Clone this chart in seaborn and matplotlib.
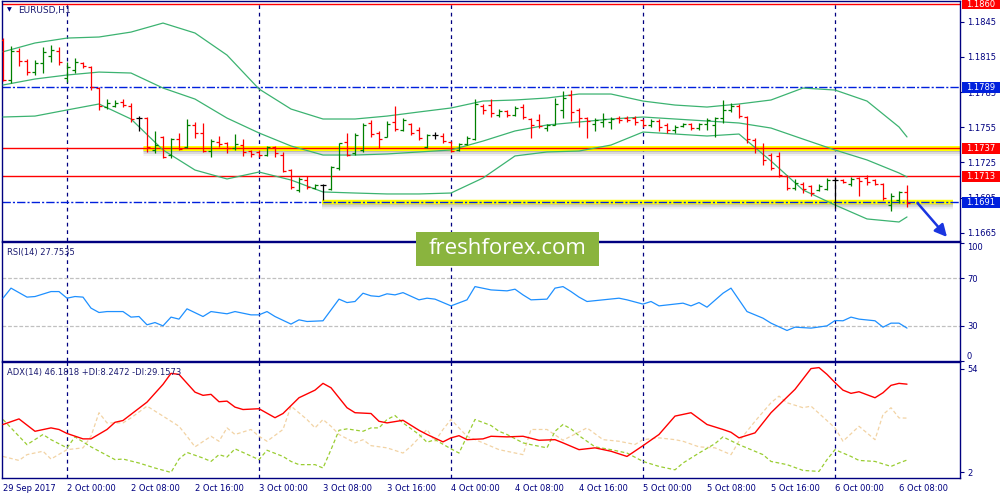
import numpy as np
import matplotlib
matplotlib.use("Agg")
import matplotlib.pyplot as plt
import matplotlib.patheffects as pe
from matplotlib.patches import Rectangle
import seaborn as sns

sns.set_style("white")
plt.rcParams["font.family"] = ["DejaVu Sans"]

# ---- OHLC, EURUSD H1 (bar 0 = 29 Sep 16:00) ----
bar_open = [1.18293, 1.17952, 1.18199, 1.18114, 1.18020, 1.18097, 1.18157, 1.18199, 1.17969, 1.18038,
            1.18097, 1.18063, 1.17884, 1.17722, 1.17731, 1.17765, 1.17731, 1.17628, 1.17628, 1.17356,
            1.17467, 1.17313, 1.17449, 1.17381, 1.17569, 1.17501, 1.17347, 1.17424, 1.17415, 1.17373,
            1.17398, 1.17347, 1.17339, 1.17313, 1.17381, 1.17313, 1.17185, 1.17015, 1.17100, 1.17032,
            1.17057, 1.17023, 1.17202, 1.17424, 1.17330, 1.17356, 1.17586, 1.17501, 1.17467, 1.17594,
            1.17526, 1.17577, 1.17526, 1.17381, 1.17484, 1.17475, 1.17424, 1.17356, 1.17407, 1.17449,
            1.17731, 1.17739, 1.17654, 1.17688, 1.17654, 1.17722, 1.17620, 1.17611, 1.17543, 1.17569,
            1.17697, 1.17824, 1.17697, 1.17628, 1.17577, 1.17594, 1.17594, 1.17628, 1.17628, 1.17628,
            1.17611, 1.17569, 1.17603, 1.17569, 1.17526, 1.17560, 1.17577, 1.17543, 1.17577, 1.17569,
            1.17628, 1.17697, 1.17731, 1.17637, 1.17441, 1.17373, 1.17313, 1.17305, 1.17134, 1.17032,
            1.17066, 1.17049, 1.17015, 1.17023, 1.17100, 1.17100, 1.17066, 1.17117, 1.17117, 1.17100,
            1.17066, 1.16887, 1.16930, 1.16998]
bar_high = [1.18310, 1.18242, 1.18225, 1.18131, 1.18123, 1.18234, 1.18251, 1.18234, 1.18106, 1.18140,
            1.18106, 1.18072, 1.17893, 1.17790, 1.17782, 1.17790, 1.17756, 1.17645, 1.17637, 1.17518,
            1.17475, 1.17458, 1.17501, 1.17620, 1.17594, 1.17586, 1.17449, 1.17475, 1.17424, 1.17492,
            1.17449, 1.17356, 1.17356, 1.17390, 1.17390, 1.17339, 1.17194, 1.17126, 1.17134, 1.17066,
            1.17066, 1.17219, 1.17415, 1.17501, 1.17501, 1.17586, 1.17611, 1.17518, 1.17603, 1.17731,
            1.17628, 1.17586, 1.17552, 1.17492, 1.17509, 1.17501, 1.17432, 1.17415, 1.17475, 1.17790,
            1.17748, 1.17790, 1.17705, 1.17697, 1.17731, 1.17748, 1.17628, 1.17662, 1.17577, 1.17799,
            1.17859, 1.17867, 1.17714, 1.17637, 1.17628, 1.17671, 1.17637, 1.17645, 1.17645, 1.17645,
            1.17620, 1.17620, 1.17620, 1.17586, 1.17569, 1.17586, 1.17586, 1.17586, 1.17628, 1.17637,
            1.17782, 1.17756, 1.17748, 1.17645, 1.17458, 1.17415, 1.17330, 1.17339, 1.17143, 1.17109,
            1.17083, 1.17057, 1.17066, 1.17117, 1.17126, 1.17109, 1.17126, 1.17126, 1.17143, 1.17109,
            1.17075, 1.16989, 1.17006, 1.17057]
bar_low = [1.17944, 1.17927, 1.18072, 1.17995, 1.17995, 1.18012, 1.18106, 1.18080, 1.17935, 1.18012,
           1.18055, 1.17867, 1.17697, 1.17705, 1.17722, 1.17722, 1.17594, 1.17518, 1.17339, 1.17330,
           1.17288, 1.17288, 1.17356, 1.17373, 1.17458, 1.17339, 1.17296, 1.17381, 1.17330, 1.17356,
           1.17305, 1.17296, 1.17296, 1.17305, 1.17296, 1.17168, 1.17023, 1.16998, 1.17023, 1.17023,
           1.16930, 1.17015, 1.17185, 1.17305, 1.17313, 1.17339, 1.17467, 1.17373, 1.17467, 1.17518,
           1.17518, 1.17484, 1.17441, 1.17373, 1.17449, 1.17415, 1.17339, 1.17347, 1.17398, 1.17441,
           1.17662, 1.17637, 1.17637, 1.17637, 1.17645, 1.17620, 1.17458, 1.17543, 1.17518, 1.17569,
           1.17628, 1.17603, 1.17552, 1.17458, 1.17518, 1.17552, 1.17535, 1.17586, 1.17594, 1.17569,
           1.17552, 1.17552, 1.17518, 1.17501, 1.17501, 1.17552, 1.17526, 1.17526, 1.17526, 1.17467,
           1.17586, 1.17680, 1.17628, 1.17415, 1.17330, 1.17228, 1.17185, 1.17126, 1.17015, 1.17015,
           1.16989, 1.16964, 1.17006, 1.17015, 1.16861, 1.17075, 1.17049, 1.16964, 1.17057, 1.17057,
           1.16930, 1.16836, 1.16904, 1.16870]
bar_close = [1.17952, 1.18199, 1.18114, 1.18020, 1.18097, 1.18191, 1.18208, 1.18106, 1.18063, 1.18106,
             1.18072, 1.17893, 1.17731, 1.17756, 1.17756, 1.17739, 1.17620, 1.17628, 1.17381, 1.17398,
             1.17296, 1.17449, 1.17364, 1.17569, 1.17501, 1.17347, 1.17432, 1.17407, 1.17373, 1.17407,
             1.17339, 1.17322, 1.17313, 1.17381, 1.17330, 1.17177, 1.17040, 1.17109, 1.17040, 1.17057,
             1.17057, 1.17211, 1.17415, 1.17313, 1.17484, 1.17569, 1.17492, 1.17449, 1.17577, 1.17535,
             1.17611, 1.17501, 1.17458, 1.17484, 1.17484, 1.17432, 1.17347, 1.17407, 1.17458, 1.17748,
             1.17697, 1.17671, 1.17688, 1.17654, 1.17714, 1.17637, 1.17569, 1.17560, 1.17569, 1.17748,
             1.17799, 1.17680, 1.17628, 1.17603, 1.17611, 1.17620, 1.17620, 1.17611, 1.17611, 1.17594,
             1.17569, 1.17603, 1.17552, 1.17526, 1.17552, 1.17577, 1.17543, 1.17577, 1.17611, 1.17628,
             1.17697, 1.17731, 1.17645, 1.17449, 1.17373, 1.17271, 1.17202, 1.17143, 1.17032, 1.17075,
             1.17023, 1.16989, 1.17049, 1.17100, 1.17100, 1.17083, 1.17109, 1.17092, 1.17083, 1.17066,
             1.16947, 1.16964, 1.16998, 1.16904]

# ---- Bollinger bands (read every 4 bars) ----
band_x = [0, 4, 8, 12, 16, 20, 24, 28, 32, 36, 40, 44, 48, 52, 56, 60, 64, 68, 72, 76,
          80, 84, 88, 92, 96, 100, 104, 108, 112, 113]
band_upper = [1.18193, 1.18268, 1.18310, 1.18319, 1.18361, 1.18438, 1.18353, 1.18165, 1.17876, 1.17705,
              1.17620, 1.17620, 1.17645, 1.17680, 1.17714, 1.17773, 1.17782, 1.17799, 1.17833, 1.17833,
              1.17773, 1.17739, 1.17722, 1.17748, 1.17782, 1.17884, 1.17867, 1.17773, 1.17552, 1.17467]
band_mid = [1.17910, 1.17961, 1.17995, 1.18020, 1.18012, 1.17884, 1.17790, 1.17628, 1.17501, 1.17390,
            1.17313, 1.17313, 1.17322, 1.17339, 1.17356, 1.17432, 1.17518, 1.17569, 1.17594, 1.17620,
            1.17637, 1.17620, 1.17603, 1.17586, 1.17543, 1.17449, 1.17356, 1.17271, 1.17160, 1.17126]
band_lower = [1.17637, 1.17645, 1.17697, 1.17748, 1.17620, 1.17356, 1.17185, 1.17109, 1.17168, 1.17100,
              1.16998, 1.16989, 1.16981, 1.16981, 1.16989, 1.17117, 1.17305, 1.17339, 1.17347, 1.17398,
              1.17509, 1.17492, 1.17475, 1.17492, 1.17262, 1.17015, 1.16887, 1.16768, 1.16742, 1.16785]

# ---- RSI(14) ----
rsi_x = [0, 1, 3, 4, 6, 7, 8, 9, 10, 11, 12, 13, 15, 16, 17, 18, 19, 20, 21, 22,
         23, 25, 26, 28, 29, 31, 32, 33, 34, 36, 37, 38, 40, 42, 43, 44, 45, 46, 47, 48,
         49, 50, 52, 53, 54, 56, 58, 59, 61, 63, 64, 65, 66, 68, 69, 70, 71, 72, 73, 75,
         77, 78, 80, 81, 82, 85, 86, 87, 88, 90, 91, 93, 95, 96, 98, 99, 101, 103, 104, 105,
         106, 107, 109, 110, 111, 112, 113]
rsi_val = [53.1, 61.6, 54.0, 54.5, 58.7, 58.7, 53.1, 54.5, 54.0, 44.7, 41.0, 41.8, 41.8, 37.1, 37.6, 30.6, 32.5, 29.7, 37.1, 35.4,
           44.1, 37.6, 41.8, 39.9, 41.8, 39.0, 39.0, 41.8, 37.6, 31.2, 34.8, 33.4, 34.0, 52.3, 49.4, 50.3, 57.3, 55.1, 54.5, 56.8,
           55.9, 57.8, 51.7, 53.1, 52.3, 46.6, 51.7, 62.9, 60.1, 59.3, 60.7, 55.9, 51.7, 52.3, 61.6, 62.9, 58.7, 54.0, 50.3, 51.7,
           53.1, 51.7, 48.1, 50.3, 46.6, 48.9, 46.6, 49.4, 45.5, 57.3, 61.6, 41.8, 36.2, 32.0, 25.8, 28.6, 27.8, 29.7, 34.2, 34.0,
           37.1, 35.4, 34.0, 28.6, 32.0, 32.0, 27.8]

# ---- ADX(14), +DI, -DI ----
adx_x = [0, 2, 4, 6, 7, 8, 10, 11, 13, 14, 15, 18, 20, 21, 22, 24, 25, 26, 27, 28,
         29, 30, 32, 34, 35, 37, 39, 40, 41, 43, 44, 46, 47, 48, 50, 52, 53, 55, 56, 57,
         58, 60, 61, 63, 65, 66, 67, 69, 70, 72, 74, 76, 78, 80, 82, 84, 86, 88, 90, 91,
         92, 94, 96, 99, 101, 102, 103, 104, 105, 106, 107, 109, 110, 111, 112, 113]
adx_val = [26.0, 28.8, 22.6, 24.3, 23.5, 21.5, 18.8, 18.8, 23.5, 27.1, 28.0, 37.2, 46.1, 51.6, 51.1, 42.2, 40.6, 41.1, 37.4, 37.7,
           34.7, 33.5, 33.9, 29.4, 31.5, 39.4, 43.2, 46.6, 44.4, 34.4, 31.9, 31.5, 27.6, 26.8, 28.1, 23.1, 21.0, 17.3, 19.3, 20.4,
           18.4, 18.8, 20.1, 19.8, 20.1, 19.1, 18.1, 18.4, 16.8, 13.4, 14.3, 12.6, 10.0, 15.4, 21.0, 30.2, 31.9, 26.0, 23.5, 22.1,
           19.3, 21.8, 31.9, 43.6, 54.0, 54.5, 51.1, 47.0, 43.2, 41.6, 42.4, 39.4, 41.9, 45.6, 46.6, 46.2]
pdi_x = [0, 1, 3, 5, 6, 8, 9, 11, 14, 15, 17, 19, 21, 22, 23, 25, 26, 27, 28, 29,
         32, 33, 35, 36, 37, 39, 40, 41, 42, 43, 45, 46, 47, 48, 49, 50, 52, 53, 54, 56,
         57, 59, 61, 62, 63, 65, 66, 68, 69, 70, 71, 72, 74, 76, 78, 80, 82, 84, 85, 87,
         89, 90, 92, 95, 96, 98, 100, 102, 103, 104, 106, 107, 109, 111, 112, 113]
pdi_val = [28.5, 24.3, 15.9, 21.0, 18.4, 14.3, 19.8, 14.8, 8.4, 8.7, 6.7, 4.2, 2.0, 8.7, 12.0, 9.2, 7.5, 10.9, 9.7, 13.8,
           8.4, 13.1, 10.0, 7.5, 5.9, 5.9, 4.2, 13.4, 23.1, 23.8, 22.6, 24.3, 24.3, 28.5, 30.5, 26.8, 21.0, 17.1, 18.4, 13.8,
           11.7, 28.5, 25.5, 22.6, 21.0, 16.8, 15.9, 14.3, 22.6, 26.0, 23.8, 20.4, 14.8, 13.4, 11.7, 7.5, 5.0, 3.3, 6.7, 11.7,
           16.4, 19.8, 15.9, 10.9, 7.5, 5.9, 3.0, 2.5, 8.4, 13.4, 10.0, 8.0, 7.5, 5.0, 6.7, 8.2]
mdi_x = [0, 2, 3, 5, 6, 8, 10, 11, 12, 13, 15, 16, 18, 20, 22, 23, 24, 26, 27, 28,
         29, 31, 32, 33, 35, 36, 38, 39, 40, 41, 42, 44, 45, 46, 48, 50, 51, 53, 54, 55,
         56, 58, 60, 62, 65, 66, 68, 70, 73, 75, 77, 79, 80, 82, 84, 85, 87, 89, 91, 92,
         94, 96, 97, 98, 100, 101, 104, 105, 107, 109, 110, 111, 112, 113]
mdi_val = [10.0, 8.0, 10.9, 12.6, 8.7, 13.4, 14.3, 20.1, 31.9, 26.8, 26.8, 29.3, 35.2, 30.2, 25.1, 20.1, 14.8, 20.1, 17.6, 24.3,
           21.0, 23.5, 20.1, 17.6, 23.5, 35.2, 28.5, 24.3, 28.5, 25.1, 21.0, 16.8, 18.4, 15.4, 14.3, 11.7, 15.1, 23.5, 17.6, 23.5,
           28.5, 20.1, 16.8, 13.4, 10.9, 23.5, 23.5, 18.1, 24.3, 18.4, 17.6, 16.0, 18.4, 19.3, 18.4, 17.6, 14.8, 14.3, 10.9, 17.6,
           27.6, 36.9, 40.2, 36.9, 34.4, 35.2, 24.3, 17.6, 25.1, 18.4, 31.0, 34.4, 29.3, 29.2]

# ---- levels, labels ----
red_levels = [1.1860, 1.1737, 1.1713]
blue_levels = [1.1789, 1.1691]
price_ticks = [1.1665, 1.1695, 1.1725, 1.1755, 1.1785, 1.1815, 1.1845]
time_ticks = [0, 8, 16, 24, 32, 40, 48, 56, 64, 72, 80, 88, 96, 104, 112]
time_labels = ["29 Sep 2017", "2 Oct 00:00", "2 Oct 08:00", "2 Oct 16:00", "3 Oct 00:00",
               "3 Oct 08:00", "3 Oct 16:00", "4 Oct 00:00", "4 Oct 08:00", "4 Oct 16:00",
               "5 Oct 00:00", "5 Oct 08:00", "5 Oct 16:00", "6 Oct 00:00", "6 Oct 08:00"]
day_starts = [8, 32, 56, 80, 104]

NAVY = "#000080"
GREEN = "#008000"
RED = "#FF0000"
BLUE = "#0020DD"
BAND = "#3CB371"

fig = plt.figure(figsize=(10, 5), dpi=100)
ax = fig.add_axes([0.002, 0.518, 0.958, 0.48])
ax_rsi = fig.add_axes([0.002, 0.278, 0.958, 0.238])
ax_adx = fig.add_axes([0.002, 0.044, 0.958, 0.232])

for a in (ax, ax_rsi, ax_adx):
    a.set_xlim(-0.125, 119.625)
    for s in a.spines.values():
        s.set_color(NAVY)
        s.set_linewidth(1.0)
    a.yaxis.tick_right()
    a.tick_params(axis="y", direction="out", length=3, width=0.8, colors=NAVY, labelsize=6, pad=2)
    for d in day_starts:
        a.axvline(d, color=NAVY, lw=0.9, dashes=(3, 3), zorder=1)

# highlighted zones (yellow with soft shadow)
shadow = [pe.SimpleLineShadow(offset=(0, -1.2), shadow_color="gray", alpha=0.35),
          pe.SimpleLineShadow(offset=(0, -2.6), shadow_color="gray", alpha=0.2),
          pe.SimpleLineShadow(offset=(0, -4.0), shadow_color="gray", alpha=0.1),
          pe.Normal()]
ax.plot([17.5, 125], [1.17375, 1.17375], color="#FFFF00", lw=3.6, solid_capstyle="butt",
        path_effects=shadow, zorder=1.2)
ax.plot([39.9, 118.75], [1.16915, 1.16915], color="#FFFF00", lw=3.2, solid_capstyle="butt",
        path_effects=shadow, zorder=1.2)

for lv in red_levels:
    ax.axhline(lv, color=RED, lw=1.0, zorder=2)
for lv in blue_levels:
    ax.axhline(lv, color=BLUE, lw=1.0, dashes=(6, 1.5, 1.5, 1.5), zorder=2)

# bollinger bands
for band in (band_upper, band_mid, band_lower):
    sns.lineplot(x=band_x, y=band, ax=ax, color=BAND, lw=0.9, errorbar=None, zorder=3)

# OHLC bars
idx = np.arange(len(bar_open))
o = np.array(bar_open)
h = np.array(bar_high)
l = np.array(bar_low)
c = np.array(bar_close)
cols = np.where(c > o, GREEN, np.where(c < o, RED, "black"))
ax.vlines(idx, l, h, colors=cols, lw=0.9, zorder=4)
ax.hlines(o, idx - 0.4, idx, colors=cols, lw=0.9, zorder=4)
ax.hlines(c, idx, idx + 0.4, colors=cols, lw=0.9, zorder=4)

ax.set_ylim(1.16580, 1.18626)
ax.set_yticks(price_ticks)
ax.set_yticklabels([f"{p:.4f}" for p in price_ticks])
ax.set_xticks([])
ax.set_xlabel("")
ax.set_ylabel("")

# level price boxes on the right axis
for lv, col in [(v, RED) for v in red_levels] + [(v, BLUE) for v in blue_levels]:
    ax.add_patch(Rectangle((1.002, lv - 0.00046), 0.045, 0.00092, transform=ax.get_yaxis_transform(),
                           fc=col, ec="none", clip_on=False, zorder=6))
    ax.text(1.006, lv, f"{lv:.4f}", transform=ax.get_yaxis_transform(), ha="left", va="center",
            fontsize=6, color="white", clip_on=False, zorder=7)

# arrow pointing down from the support
ax.annotate("", xy=(118.0, 1.16614), xytext=(114.3, 1.16905),
            arrowprops=dict(arrowstyle="-|>", color="#1A35E0", lw=1.8, mutation_scale=18,
                            shrinkA=0, shrinkB=0),
            annotation_clip=False, zorder=8)

# RSI panel
ax_rsi.axhline(70, color="#C0C0C0", lw=0.9, dashes=(3, 1.5), zorder=1)
ax_rsi.axhline(30, color="#C0C0C0", lw=0.9, dashes=(3, 1.5), zorder=1)
sns.lineplot(x=rsi_x, y=rsi_val, ax=ax_rsi, color="#1E90FF", lw=0.9, errorbar=None, zorder=3)
ax_rsi.set_ylim(0, 100.6)
ax_rsi.set_yticks([0, 30, 70, 100])
ax_rsi.set_yticklabels(["0", "30", "70", "100"])
rl = ax_rsi.get_yticklabels()
rl[0].set_va("bottom")
rl[3].set_va("top")
ax_rsi.set_xticks([])
ax_rsi.set_xlabel("")
ax_rsi.set_ylabel("")

# ADX panel
sns.lineplot(x=mdi_x, y=mdi_val, ax=ax_adx, color="#F2D3A4", lw=0.9, linestyle=(0, (3, 2)),
             errorbar=None, zorder=2)
sns.lineplot(x=pdi_x, y=pdi_val, ax=ax_adx, color="#9ACD32", lw=0.9, linestyle=(0, (3, 2)),
             errorbar=None, zorder=2)
sns.lineplot(x=adx_x, y=adx_val, ax=ax_adx, color=RED, lw=1.0, errorbar=None, zorder=3)
ax_adx.set_ylim(-0.8, 57.3)
ax_adx.set_yticks([2, 54])
ax_adx.set_yticklabels(["2", "54"])
ax_adx.set_xticks(time_ticks)
ax_adx.set_xticklabels(time_labels, ha="left")
ax_adx.tick_params(axis="x", direction="out", length=2.5, width=0.8, colors=NAVY, labelsize=6, pad=1.5)
ax_adx.set_xlabel("")
ax_adx.set_ylabel("")

# panel captions
fig.text(0.007, 0.981, "\u25BC", fontsize=4.5, color=NAVY, va="center")
fig.text(0.018, 0.980, "EURUSD,H1", fontsize=6.5, color="#1A1A70", va="center")
fig.text(0.007, 0.496, "RSI(14) 27.7535", fontsize=6, color="#1A1A70", va="center")
fig.text(0.007, 0.256, "ADX(14) 46.1818 +DI:8.2472 -DI:29.1573", fontsize=6, color="#1A1A70", va="center")

# watermark (spans the main / RSI boundary)
fig.add_artist(Rectangle((0.416, 0.468), 0.183, 0.068, transform=fig.transFigure,
                         fc="#8AB43E", ec="none", zorder=20))
fig.text(0.5075, 0.503, "freshforex.com", fontsize=16, color="white", ha="center", va="center",
         family=["Open Sans", "DejaVu Sans"], zorder=21)

fig.savefig("out.png", dpi=100)
